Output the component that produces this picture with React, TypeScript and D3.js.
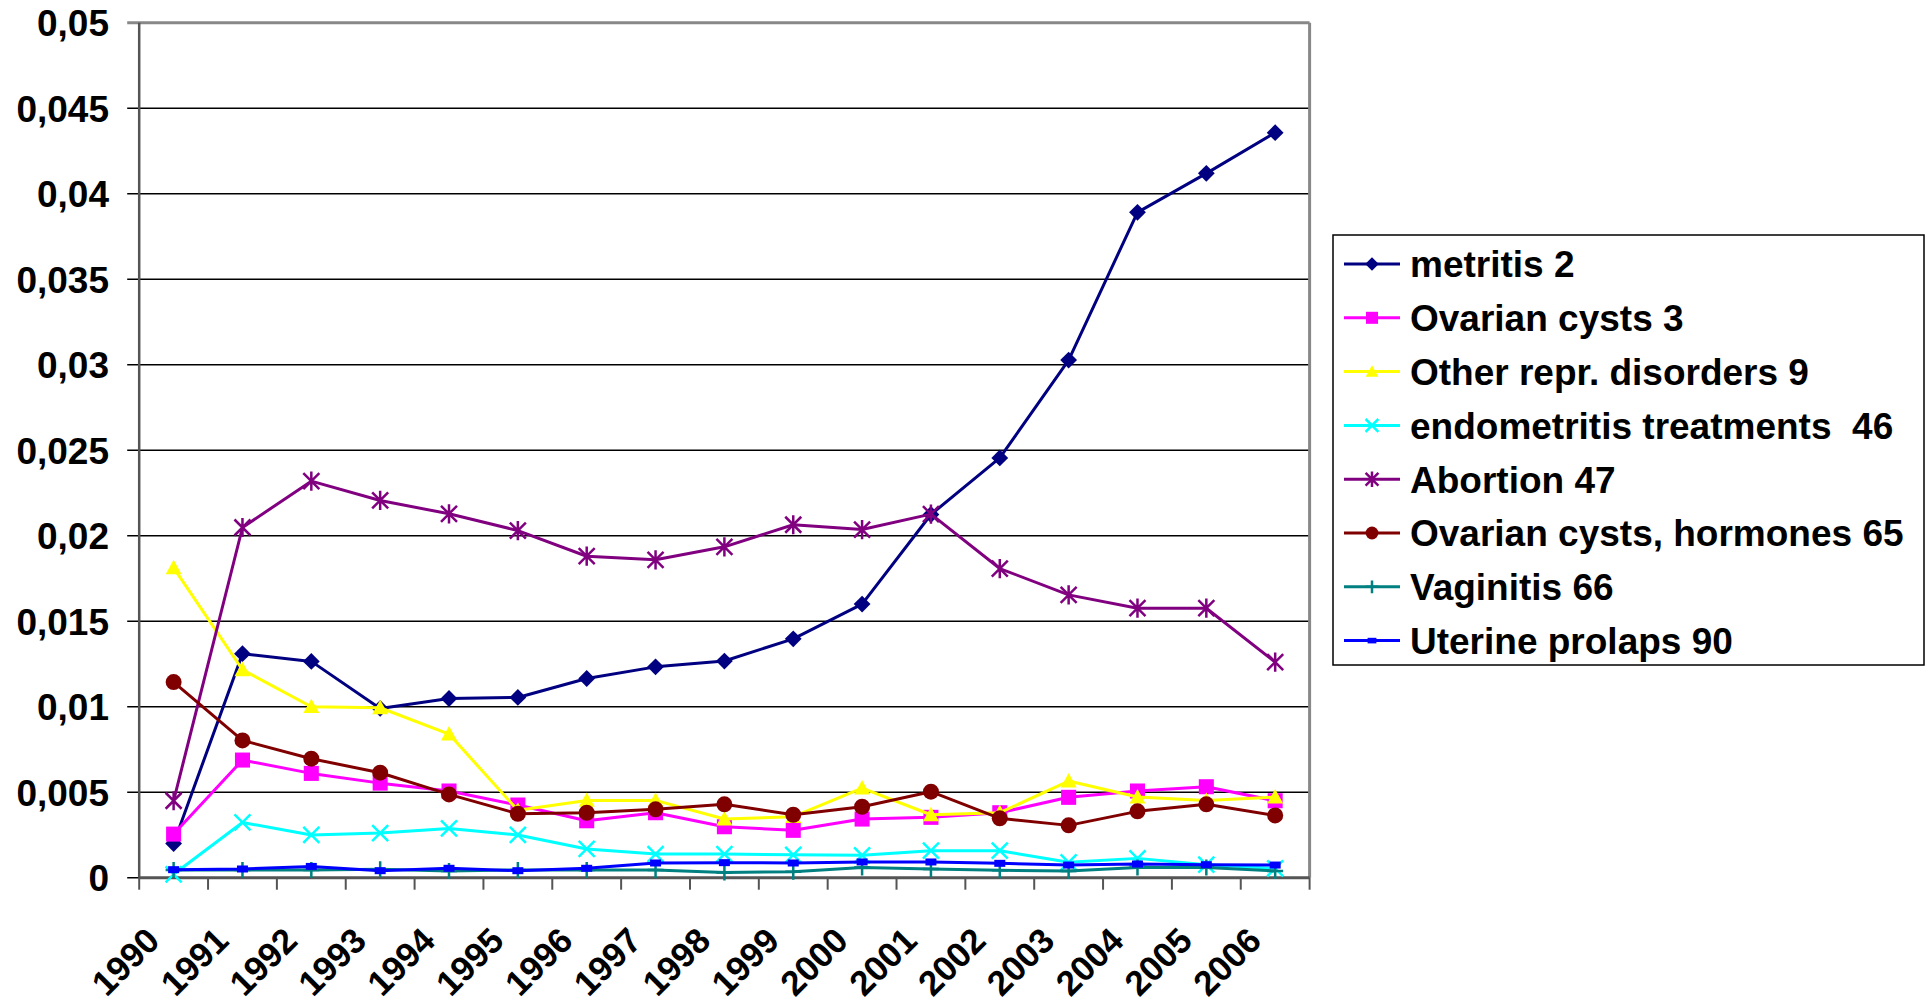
import React from 'react';
import * as d3 from 'd3';

const years = ['1990', '1991', '1992', '1993', '1994', '1995', '1996', '1997', '1998', '1999', '2000', '2001', '2002', '2003', '2004', '2005', '2006'];

const metritis = [0.002, 0.0131, 0.01265, 0.0099, 0.01048, 0.01054, 0.01165, 0.01233, 0.01267, 0.01397, 0.016, 0.02124, 0.02455, 0.03027, 0.03891, 0.04119, 0.04357];
const ovarianCysts = [0.00255, 0.00688, 0.0061, 0.00553, 0.00507, 0.00425, 0.00333, 0.0038, 0.00298, 0.00277, 0.00343, 0.00353, 0.0038, 0.0047, 0.00507, 0.00532, 0.0045];
const otherRepr = [0.01812, 0.01216, 0.01, 0.00994, 0.0084, 0.00394, 0.00452, 0.00452, 0.00343, 0.00357, 0.00524, 0.00368, 0.0038, 0.00565, 0.00472, 0.00452, 0.00472];
const endometritis = [0.0002, 0.00323, 0.0025, 0.00261, 0.00288, 0.0025, 0.00168, 0.00138, 0.00138, 0.00134, 0.00131, 0.00158, 0.00158, 0.0009, 0.00113, 0.00076, 0.00055];
const abortion = [0.0045, 0.02048, 0.02319, 0.02206, 0.02128, 0.0203, 0.0188, 0.01859, 0.01935, 0.02064, 0.02036, 0.02126, 0.01808, 0.01654, 0.01576, 0.01576, 0.01261];
const ovarianHormones = [0.01144, 0.00803, 0.00696, 0.00614, 0.00487, 0.00374, 0.0038, 0.004, 0.00429, 0.00368, 0.00415, 0.00503, 0.00347, 0.00306, 0.00388, 0.00429, 0.00364];
const vaginitis = [0.00045, 0.00045, 0.00045, 0.00049, 0.00039, 0.00045, 0.00045, 0.00045, 0.00031, 0.00035, 0.0006, 0.00051, 0.00043, 0.00039, 0.0006, 0.0006, 0.00039];
const uterineProlaps = [0.00047, 0.00051, 0.00066, 0.00041, 0.00055, 0.00041, 0.00055, 0.00086, 0.00088, 0.00086, 0.00092, 0.00092, 0.00084, 0.00074, 0.0008, 0.00076, 0.00074];

const yTicks = [0, 0.005, 0.01, 0.015, 0.02, 0.025, 0.03, 0.035, 0.04, 0.045, 0.05];

const series = [
  { name: 'metritis 2', values: metritis, color: '#000080', marker: 'diamond' },
  { name: 'Ovarian cysts 3', values: ovarianCysts, color: '#FF00FF', marker: 'square' },
  { name: 'Other repr. disorders 9', values: otherRepr, color: '#FFFF00', marker: 'triangle' },
  { name: 'endometritis treatments  46', values: endometritis, color: '#00FFFF', marker: 'x' },
  { name: 'Abortion 47', values: abortion, color: '#800080', marker: 'star' },
  { name: 'Ovarian cysts, hormones 65', values: ovarianHormones, color: '#800000', marker: 'circle' },
  { name: 'Vaginitis 66', values: vaginitis, color: '#008080', marker: 'plus' },
  { name: 'Uterine prolaps 90', values: uterineProlaps, color: '#0000FF', marker: 'dash' },
];

const font = '"Liberation Sans", Arial, sans-serif';

function Marker({ type, x, y, color, scale = 1 }: { type: string; x: number; y: number; color: string; scale?: number }) {
  const s = 8 * scale;
  if (type === 'diamond')
    return <path d={`M${x},${y - s * 1.05}L${x + s * 1.05},${y}L${x},${y + s * 1.05}L${x - s * 1.05},${y}Z`} fill={color} />;
  if (type === 'square')
    return <rect x={x - s * 0.94} y={y - s * 0.94} width={2 * s * 0.94} height={2 * s * 0.94} fill={color} />;
  if (type === 'triangle')
    return <path d={`M${x},${y - s}L${x + s},${y + s * 0.8}L${x - s},${y + s * 0.8}Z`} fill={color} />;
  if (type === 'circle') return <circle cx={x} cy={y} r={s} fill={color} />;
  if (type === 'x')
    return (
      <path d={`M${x - s},${y - s}L${x + s},${y + s}M${x + s},${y - s}L${x - s},${y + s}`} stroke={color} strokeWidth={2.5} />
    );
  if (type === 'star')
    return (
      <path
        d={`M${x - s},${y - s}L${x + s},${y + s}M${x + s},${y - s}L${x - s},${y + s}M${x},${y - s * 1.2}L${x},${y + s * 1.2}`}
        stroke={color}
        strokeWidth={2.5}
      />
    );
  if (type === 'plus')
    return <path d={`M${x - s},${y}L${x + s},${y}M${x},${y - s}L${x},${y + s}`} stroke={color} strokeWidth={2.5} />;
  // dash
  return <rect x={x - 5.5 * scale} y={y - 3.5 * scale} width={11 * scale} height={7 * scale} fill={color} />;
}

export default function App() {
  const width = 1932;
  const height = 1002;
  const left = 139.2;
  const right = 1309.6;
  const top = 22.7;
  const bottom = 877.7;

  const x = d3.scaleBand().domain(years).range([left, right]).padding(0);
  const y = d3.scaleLinear().domain([0, 0.05]).range([bottom, top]);
  const cx = (yr: string) => (x(yr) as number) + x.bandwidth() / 2;

  const line = d3
    .line<number>()
    .x((_, i) => cx(years[i]))
    .y((d) => y(d));

  const fmt = (v: number) => (v === 0 ? '0' : String(+v.toFixed(3)).replace('.', ','));

  const legend = { x: 1333, y: 235, w: 591, h: 430, row0: 264, step: 53.8 };

  return (
    <svg width={width} height={height} style={{ position: 'absolute', left: 0, top: 0, background: '#fff' }}>
      {/* gridlines */}
      {yTicks.map((t) => (
        <line key={t} x1={left - 12} x2={right} y1={y(t)} y2={y(t)} stroke={t === 0.05 ? '#888' : '#000'} strokeWidth={t === 0.05 ? 3 : 1.5} />
      ))}
      <line x1={right} x2={right} y1={top} y2={bottom} stroke="#888" strokeWidth={3} />
      {/* axes */}
      <line x1={left} x2={left} y1={top} y2={bottom} stroke="#555" strokeWidth={2.5} />
      <line x1={left} x2={right} y1={bottom} y2={bottom} stroke="#555" strokeWidth={3} />
      {years.concat(['end']).map((yr, i) => {
        const xx = left + i * x.bandwidth();
        return <line key={yr} x1={xx} x2={xx} y1={bottom} y2={bottom + 12} stroke="#555" strokeWidth={2} />;
      })}
      {yTicks.map((t) => (
        <text
          key={'l' + t}
          x={109}
          y={y(t)}
          dy="0.36em"
          textAnchor="end"
          fontFamily={font}
          fontWeight="bold"
          fontSize={37}
        >
          {fmt(t)}
        </text>
      ))}
      {years.map((yr) => (
        <text
          key={'x' + yr}
          transform={`translate(${cx(yr) - 12},${bottom + 65}) rotate(-45)`}
          textAnchor="end"
          fontFamily={font}
          fontWeight="bold"
          fontSize={35}
        >
          {yr}
        </text>
      ))}
      {/* series */}
      {series.map((s) => (
        <g key={s.name}>
          <path d={line(s.values) as string} fill="none" stroke={s.color} strokeWidth={3} strokeLinejoin="round" />
          {s.values.map((v, i) => (
            <Marker key={i} type={s.marker} x={cx(years[i])} y={y(v)} color={s.color} />
          ))}
        </g>
      ))}
      {/* legend */}
      <rect x={legend.x} y={legend.y} width={legend.w} height={legend.h} fill="#fff" stroke="#000" strokeWidth={1.5} />
      {series.map((s, i) => {
        const ly = legend.row0 + i * legend.step;
        return (
          <g key={'lg' + s.name}>
            <line x1={1344} x2={1400} y1={ly} y2={ly} stroke={s.color} strokeWidth={3} />
            <Marker type={s.marker} x={1372} y={ly} color={s.color} scale={0.8} />
            <text
              x={1410}
              y={ly}
              dy="0.36em"
              fontFamily={font}
              fontWeight="bold"
              fontSize={37}
              style={{ whiteSpace: 'pre' }}
            >
              {s.name}
            </text>
          </g>
        );
      })}
    </svg>
  );
}
